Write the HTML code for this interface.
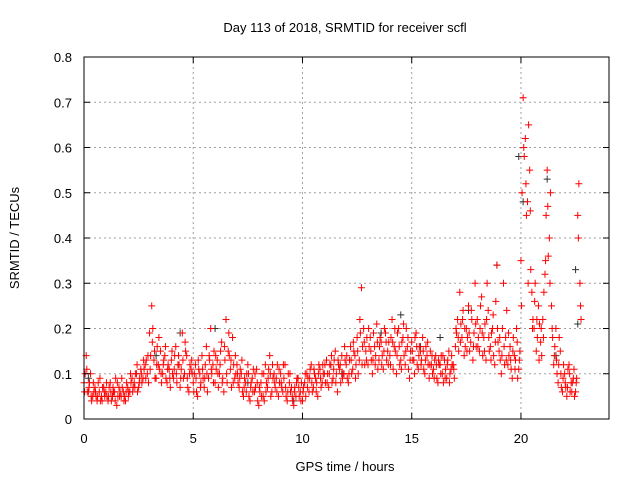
<!DOCTYPE html>
<html><head><meta charset="utf-8"><style>
body{margin:0;background:#fff;}
svg{display:block;font-family:"Liberation Sans",sans-serif;}
</style></head><body>
<svg id="chart" width="640" height="480" viewBox="0 0 640 480">
<rect width="640" height="480" fill="#fff"/>
<g id="grid"></g>
<g id="points"></g>
<rect x="84" y="57" width="525" height="362" fill="none" stroke="#000" stroke-width="1"/>
<g id="ticks"></g>
<text x="345" y="32" text-anchor="middle" font-size="13">Day 113 of 2018, SRMTID for receiver scfl</text>
<text x="345" y="471" text-anchor="middle" font-size="13">GPS time / hours</text>
<text transform="translate(19,238) rotate(-90)" text-anchor="middle" font-size="13">SRMTID / TECUs</text>
</svg>
<script>
const xTicks=[0,5,10,15,20];
const yTicks=[0,0.1,0.2,0.3,0.4,0.5,0.6,0.7,0.8];
const yTickLabels=["0","0.1","0.2","0.3","0.4","0.5","0.6","0.7","0.8"];
const stepHours=0.1;
const seriesA=[0.08,0.14,0.06,0.10,0.05,0.07,0.04,0.06,0.05,0.07,
0.06,0.04,0.08,0.05,0.06,0.03,0.07,0.05,0.06,0.04,
0.07,0.06,0.09,0.08,0.10,0.07,0.11,0.09,0.12,0.10,
0.19,0.25,0.13,0.09,0.12,0.15,0.10,0.14,0.08,0.11,
0.13,0.09,0.16,0.12,0.07,0.19,0.10,0.14,0.06,0.11,
0.08,0.12,0.05,0.10,0.14,0.07,0.16,0.09,0.20,0.12,
0.08,0.13,0.10,0.17,0.06,0.22,0.15,0.11,0.18,0.09,
0.12,0.07,0.10,0.05,0.08,0.12,0.04,0.09,0.06,0.11,
0.03,0.08,0.05,0.12,0.07,0.14,0.06,0.10,0.09,0.05,
0.10,0.06,0.12,0.04,0.08,0.07,0.03,0.05,0.09,0.06,
0.04,0.08,0.10,0.06,0.12,0.07,0.09,0.05,0.11,0.08,
0.10,0.13,0.07,0.12,0.09,0.15,0.06,0.11,0.14,0.10,
0.12,0.08,0.16,0.11,0.14,0.18,0.13,0.29,0.20,0.15,
0.12,0.18,0.10,0.16,0.21,0.13,0.17,0.11,0.19,0.15,
0.14,0.22,0.16,0.10,0.20,0.13,0.18,0.12,0.16,0.09,
0.17,0.13,0.19,0.11,0.15,0.18,0.10,0.14,0.09,0.12,
0.11,0.14,0.08,0.12,0.10,0.13,0.09,0.15,0.11,0.12,
0.16,0.22,0.28,0.18,0.14,0.20,0.25,0.17,0.13,0.30,
0.22,0.15,0.27,0.18,0.13,0.24,0.16,0.20,0.12,0.34,
0.15,0.10,0.30,0.18,0.12,0.16,0.09,0.14,0.20,0.11,
0.35,0.71,0.62,0.48,0.55,0.28,0.20,0.15,0.25,0.17,
0.22,0.32,0.55,0.40,0.25,0.12,0.20,0.08,0.15,0.06,
0.10,0.05,0.12,0.08,0.09,0.06,0.45,0.30];
const seriesB=[0.10,0.06,0.08,0.04,0.06,0.05,0.08,0.04,0.07,0.05,
0.05,0.07,0.04,0.06,0.09,0.05,0.06,0.07,0.05,0.08,
0.06,0.08,0.07,0.10,0.06,0.09,0.08,0.11,0.13,0.08,
0.14,0.20,0.09,0.16,0.11,0.08,0.13,0.09,0.12,0.07,
0.10,0.14,0.08,0.12,0.11,0.09,0.15,0.07,0.12,0.10,
0.10,0.06,0.11,0.08,0.09,0.12,0.06,0.13,0.10,0.15,
0.11,0.07,0.15,0.09,0.13,0.08,0.14,0.07,0.12,0.10,
0.08,0.11,0.06,0.09,0.10,0.05,0.08,0.11,0.07,0.04,
0.06,0.10,0.04,0.08,0.11,0.05,0.09,0.07,0.12,0.08,
0.07,0.09,0.05,0.10,0.06,0.04,0.07,0.09,0.05,0.08,
0.07,0.05,0.09,0.11,0.06,0.10,0.08,0.12,0.07,0.10,
0.08,0.10,0.12,0.08,0.13,0.10,0.12,0.08,0.10,0.13,
0.09,0.13,0.10,0.15,0.12,0.10,0.19,0.16,0.12,0.18,
0.16,0.13,0.19,0.14,0.11,0.18,0.14,0.20,0.13,0.17,
0.18,0.11,0.15,0.19,0.12,0.17,0.14,0.20,0.11,0.15,
0.13,0.18,0.12,0.16,0.13,0.11,0.16,0.12,0.15,0.10,
0.13,0.09,0.12,0.14,0.08,0.11,0.13,0.10,0.12,0.09,
0.19,0.15,0.21,0.24,0.16,0.18,0.15,0.22,0.19,0.16,
0.18,0.25,0.14,0.21,0.30,0.15,0.19,0.14,0.26,0.17,
0.13,0.20,0.12,0.24,0.14,0.11,0.18,0.13,0.09,0.15,
0.50,0.58,0.45,0.65,0.33,0.22,0.30,0.18,0.21,0.14,
0.28,0.45,0.36,0.50,0.18,0.16,0.10,0.18,0.07,0.12,
0.07,0.11,0.06,0.08,0.05,0.09,0.52,0.22];
const seriesC=[0.06,0.11,0.07,0.05,0.08,0.06,0.05,0.09,0.04,0.06,
0.08,0.05,0.06,0.07,0.04,0.08,0.05,0.09,0.04,0.06,
0.05,0.10,0.06,0.07,0.12,0.08,0.10,0.13,0.09,0.14,
0.11,0.17,0.15,0.12,0.18,0.10,0.12,0.16,0.11,0.09,
0.15,0.11,0.10,0.14,0.09,0.13,0.17,0.09,0.10,0.13,
0.06,0.09,0.13,0.07,0.11,0.09,0.10,0.14,0.11,0.08,
0.14,0.10,0.12,0.08,0.16,0.10,0.19,0.13,0.08,0.14,
0.10,0.09,0.13,0.07,0.06,0.10,0.07,0.06,0.10,0.08,
0.07,0.05,0.10,0.06,0.09,0.10,0.12,0.08,0.06,0.11,
0.08,0.12,0.07,0.06,0.10,0.05,0.06,0.08,0.07,0.04,
0.06,0.10,0.07,0.09,0.08,0.11,0.06,0.10,0.09,0.12,
0.12,0.08,0.10,0.14,0.11,0.08,0.13,0.12,0.09,0.16,
0.14,0.10,0.13,0.17,0.09,0.15,0.22,0.12,0.17,0.13,
0.20,0.15,0.13,0.12,0.17,0.16,0.12,0.15,0.17,0.12,
0.12,0.17,0.20,0.14,0.16,0.11,0.21,0.15,0.18,0.13,
0.15,0.10,0.16,0.14,0.12,0.15,0.13,0.17,0.12,0.14,
0.09,0.12,0.13,0.10,0.14,0.09,0.12,0.08,0.14,0.11,
0.20,0.18,0.17,0.22,0.20,0.15,0.19,0.24,0.16,0.21,
0.16,0.20,0.19,0.15,0.22,0.18,0.13,0.23,0.17,0.20,
0.18,0.14,0.16,0.13,0.19,0.13,0.15,0.11,0.17,0.13,
0.25,0.60,0.52,0.30,0.46,0.20,0.26,0.22,0.13,0.20,
0.18,0.35,0.47,0.30,0.20,0.14,0.13,0.12,0.10,0.09,
0.08,0.07,0.10,0.06,0.11,0.08,0.40,0.25];
const darkTimes=[0.2,1.3,3.3,4.4,6.0,7.5,9.6,11.8,13.6,14.5,15.4,16.3,17.6,18.9,19.9,20.1,21.2,21.6,22.5,22.6];
const darkValues=[0.09,0.05,0.14,0.19,0.20,0.08,0.04,0.10,0.19,0.23,0.16,0.18,0.24,0.34,0.58,0.48,0.53,0.14,0.33,0.21];

const L=84,R=609,T=57,B=419,XMAX=24.03,YMAX=0.8;
const xs=v=>L+v/XMAX*(R-L);
const ys=v=>B-v/YMAX*(B-T);
const NS="http://www.w3.org/2000/svg";
const grid=document.getElementById('grid'),ticks=document.getElementById('ticks'),pts=document.getElementById('points');
function mk(tag,attrs,parent){const e=document.createElementNS(NS,tag);for(const k in attrs)e.setAttribute(k,attrs[k]);parent.appendChild(e);return e;}
xTicks.forEach(t=>{
 const x=xs(t);
 if(t>0){const g=mk('line',{x1:x,x2:x,y1:T,y2:B,stroke:'#a0a0a0','stroke-dasharray':'2,3'},grid);
 
 }
 mk('line',{x1:x,x2:x,y1:B,y2:B-6,stroke:'#000'},ticks);
 mk('line',{x1:x,x2:x,y1:T,y2:T+6,stroke:'#000'},ticks);
 const lb=mk('text',{x:x,y:443,'text-anchor':'middle','font-size':13},ticks);
 lb.textContent=t;
 
 
});
yTicks.forEach((t,i)=>{
 const y=ys(t);
 if(i>0&&i<yTicks.length-1){const g=mk('line',{x1:L,x2:R,y1:y,y2:y,stroke:'#a0a0a0','stroke-dasharray':'2,3'},grid);
 
 }
 mk('line',{x1:L,x2:L+6,y1:y,y2:y,stroke:'#000'},ticks);
 mk('line',{x1:R,x2:R-6,y1:y,y2:y,stroke:'#000'},ticks);
 const lb=mk('text',{x:72,y:y+5,'text-anchor':'end','font-size':13},ticks);
 lb.textContent=yTickLabels[i];
 
 
});
function plus(t,v,color,name){
 const x=xs(t),y=ys(v);
 const p=mk('path',{d:`M${x-3.5},${y}h7M${x},${y-3.5}v7`,stroke:color,'stroke-width':1,fill:'none'},pts);
 
 
}
darkTimes.forEach((t,i)=>plus(t,darkValues[i],'#333','dark-point'));
seriesA.forEach((v,i)=>plus(i*stepHours,v,'#ff0000','srmtid-point'));
seriesB.forEach((v,i)=>plus(i*stepHours+stepHours/2,v,'#ff0000','srmtid-point'));
seriesC.forEach((v,i)=>plus(i*stepHours+stepHours*0.28,v,'#ff0000','srmtid-point'));
</script>
</body></html>
